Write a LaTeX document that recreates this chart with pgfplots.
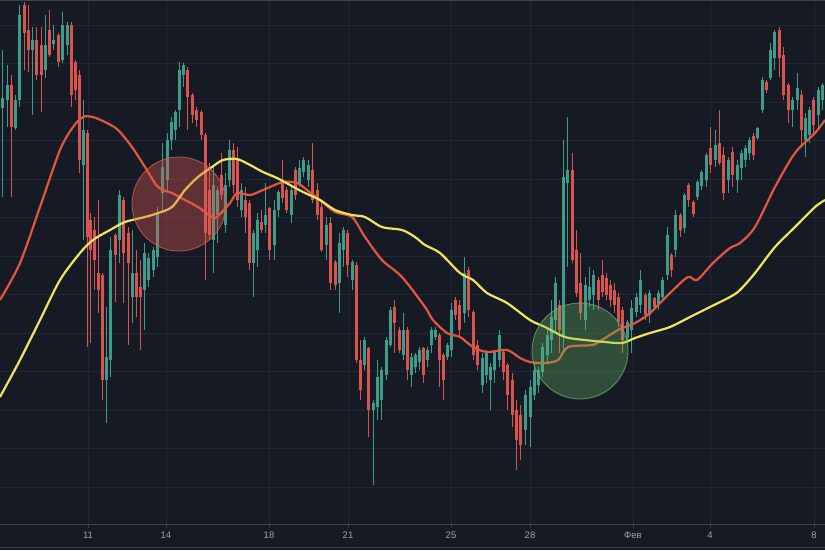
\documentclass[border=0pt]{standalone}
\usepackage{pgfplots}
\pgfplotsset{compat=1.18}
\usepackage{pgfplotstable}
\usepackage{fontspec}
\setmainfont{Liberation Sans}
\definecolor{bg}{HTML}{161A25}
\definecolor{gridc}{HTML}{232735}
\definecolor{axisc}{HTML}{3C404C}
\definecolor{up}{HTML}{3E9C8A}
\definecolor{down}{HTML}{D9534F}
\definecolor{maR}{HTML}{E2553F}
\definecolor{maY}{HTML}{EDE65A}
\definecolor{lbl}{HTML}{A0A3AB}

% pixel coordinates: x from left, y from top (top/bot = body, hi/lo = wick)
\pgfplotstableread{
x top bot hi lo
2 98 108 50 197
7 85 100 65 127
15 100 128 95 130
19 15 100 5 107
32 40 50 27 115
45 45 70 15 78
53 40 44 25 50
62 25 60 12 63
67 25 45 22 55
83 130 165 100 240
106 357 380 307 423
110 250 360 237 377
119 195 240 190 263
132 273 297 230 323
144 253 290 243 330
148 258 280 253 287
153 250 270 247 277
157 213 257 207 267
162 167 193 143 213
167 140 180 133 193
171 122 140 117 150
175 112 130 110 140
179 70 110 62 127
183 65 75 63 87
213 185 240 167 273
217 190 215 187 243
225 185 225 173 233
229 150 180 140 187
241 190 210 183 217
253 233 263 230 297
257 220 250 213 267
265 215 225 183 233
274 210 245 200 260
278 192 210 190 217
291 190 215 187 223
299 168 185 160 187
303 160 172 157 177
308 165 180 160 187
326 225 245 217 260
339 243 283 233 313
343 230 250 227 267
352 262 280 260 290
364 340 365 337 370
373 403 410 400 485
377 377 407 360 420
381 370 400 367 420
386 340 375 337 380
390 310 345 307 347
403 330 355 313 360
411 357 375 353 387
415 355 367 353 373
419 350 362 347 370
427 350 360 347 367
431 330 345 327 353
435 330 337 327 340
447 345 357 343 360
451 310 350 303 357
464 273 313 257 323
482 358 385 353 393
486 352 375 350 383
490 367 380 363 410
494 352 370 350 383
499 335 360 330 367
525 395 430 390 445
530 387 417 380 447
534 370 395 363 400
538 370 385 367 393
542 347 372 343 377
547 335 355 330 363
551 317 340 300 353
555 283 320 277 333
563 177 337 140 353
567 170 183 117 267
585 285 320 277 330
589 287 300 267 307
593 275 295 270 310
627 322 338 320 343
631 308 330 300 353
636 297 312 293 317
640 280 305 270 313
649 293 315 290 323
658 293 305 290 310
662 280 297 277 300
667 235 275 227 280
675 215 250 210 257
684 195 228 193 233
697 182 197 180 200
701 172 186 170 190
706 155 180 153 187
715 145 160 130 167
728 160 180 157 193
737 165 180 160 193
741 153 168 150 180
745 148 160 145 167
749 140 153 137 160
757 128 138 127 140
762 80 110 77 113
770 50 78 43 80
774 32 58 30 70
792 100 110 97 127
797 88 100 73 110
805 118 140 113 157
809 110 135 107 143
818 90 115 87 130
822 85 100 83 110
}\greentab

\pgfplotstableread{
x top bot hi lo
11 85 127 75 197
24 5 33 2 70
28 30 50 5 72
36 40 75 27 80
41 45 75 27 112
49 30 55 10 57
58 35 62 33 67
71 25 95 22 107
75 62 90 60 100
79 75 160 70 173
87 133 237 130 347
90 220 250 213 343
94 230 260 217 290
98 273 290 200 313
102 275 380 273 400
115 235 255 233 302
123 200 253 197 303
128 233 263 227 345
136 273 297 250 317
140 287 297 260 350
187 70 97 67 130
192 95 115 93 123
196 110 120 107 127
201 112 135 110 140
205 135 233 133 280
209 190 235 163 240
221 175 195 153 200
233 150 185 143 193
237 160 200 147 207
245 200 217 187 233
249 203 263 200 270
261 222 230 210 233
269 208 250 207 260
282 180 198 160 203
286 190 210 187 213
295 170 195 167 200
312 170 200 143 203
317 190 215 183 220
321 207 250 200 252
330 223 283 217 290
335 262 285 260 290
347 233 265 230 277
356 265 360 262 363
360 360 390 340 400
368 348 410 347 437
394 307 323 300 353
399 330 350 327 353
407 330 370 327 380
423 348 375 347 383
439 335 360 333 387
443 355 380 353 400
455 300 315 297 320
459 305 330 300 337
468 270 310 267 317
473 312 355 310 360
477 345 365 340 370
503 352 372 350 380
507 365 395 363 410
512 380 415 373 427
516 410 440 400 470
520 415 445 405 460
559 305 330 300 353
572 170 260 153 263
576 250 293 230 297
580 283 313 253 320
598 280 300 277 310
602 275 292 260 297
606 278 295 273 300
610 285 300 280 307
614 290 305 283 313
618 297 322 293 327
622 310 340 307 353
645 295 315 293 320
654 298 307 297 310
671 255 270 253 277
680 215 230 213 237
688 185 200 183 207
693 202 214 200 217
710 148 165 127 173
719 143 163 110 165
723 155 193 147 200
732 152 175 147 187
753 136 155 133 160
766 82 90 80 93
779 30 58 27 77
783 55 95 47 100
788 85 110 83 123
801 95 130 90 147
813 100 125 97 133
}\redtab

\pgfplotsset{candle/.style={mark=none, draw=none, forget plot}}

\begin{document}
\begin{tikzpicture}
\fill[bg] (0,-26pt) rectangle (825pt,524pt);
\draw[axisc, line width=0.8pt] (0,-23pt) -- (825pt,-23pt);
\begin{axis}[
  at={(0,0)}, anchor=south west,
  scale only axis, width=825pt, height=524pt,
  xmin=0, xmax=825, ymin=0, ymax=524, y dir=reverse,
  axis background/.style={fill=bg},
  separate axis lines,
  x axis line style={draw=axisc, line width=1pt},
  y axis line style={draw=none},
  xtick={88,166,269,348,451,530,633,710,814},
  xticklabels={11,14,18,21,25,28,Фев,4,8},
  xtick pos=left,
  tick align=outside,
  major tick length=4pt,
  xtick style={draw=axisc, line width=0.8pt},
  xticklabel style={font=\fontsize{9.5}{10}\selectfont, text=lbl},
  ytick={25,63.5,102,140.5,179,217.5,256,294.5,333,371.5,410,448.5,487},
  yticklabels={},
  ytick style={draw=none},
  grid=major,
  major grid style={draw=gridc, line width=0.8pt},
]
% wicks
\addplot[candle,
  error bars/.cd, y dir=plus, y explicit, error mark=none,
  error mark options={draw=none, fill=none},
  error bar style={draw=up, line width=1pt}]
  table[x=x, y=hi, y error plus expr=\thisrow{lo}-\thisrow{hi}] \greentab;
\addplot[candle,
  error bars/.cd, y dir=plus, y explicit, error mark=none,
  error mark options={draw=none, fill=none},
  error bar style={draw=down, line width=1pt}]
  table[x=x, y=hi, y error plus expr=\thisrow{lo}-\thisrow{hi}] \redtab;
% bodies
\addplot[candle,
  error bars/.cd, y dir=plus, y explicit, error mark=none,
  error mark options={draw=none, fill=none},
  error bar style={draw=up, line width=3pt}]
  table[x=x, y=top, y error plus expr=\thisrow{bot}-\thisrow{top}] \greentab;
\addplot[candle,
  error bars/.cd, y dir=plus, y explicit, error mark=none,
  error mark options={draw=none, fill=none},
  error bar style={draw=down, line width=3pt}]
  table[x=x, y=top, y error plus expr=\thisrow{bot}-\thisrow{top}] \redtab;
% highlight circles
\addplot[only marks, mark=*, mark size=47pt,
  mark options={fill={rgb,255:red,224;green,90;blue,80}, fill opacity=0.37,
  draw={rgb,255:red,215;green,95;blue,85}, draw opacity=0.8, line width=0.8pt}]
  coordinates {(179,204)};
\addplot[only marks, mark=*, mark size=48pt,
  mark options={fill={rgb,255:red,106;green,185;blue,106}, fill opacity=0.33,
  draw={rgb,255:red,110;green,175;blue,110}, draw opacity=0.8, line width=0.8pt}]
  coordinates {(580,351)};
% moving averages
\addplot[maR, line width=2.2pt, smooth, tension=0.5] coordinates {
(0,300)(20,263)(40,207)(60,150)(73,127)(83,117)(93,117)(107,123)(118,130)(132,147)
(145,167)(158,187)(172,193)(185,200)(198,207)(212,217)(217,217)(230,203)(237,193)
(250,195)(263,190)(283,182)(297,183)(307,190)(320,200)(335,212)(352,217)(365,237)
(382,260)(402,277)(425,307)(433,320)(447,333)(460,337)(473,347)(487,352)(507,350)
(520,358)(530,362)(545,363)(558,360)(568,347)(592,345)(602,340)(618,330)(635,323)
(650,313)(670,293)(688,277)(697,280)(713,263)(730,248)(740,243)(755,227)(775,187)
(795,153)(815,133)(825,120)};
\addplot[maY, line width=2.2pt, smooth, tension=0.5] coordinates {
(0,397)(20,360)(40,320)(60,280)(80,253)(93,240)(110,230)(125,222)(145,217)(158,213)
(172,207)(185,190)(198,177)(212,167)(223,160)(237,159)(250,165)(263,172)(277,178)
(290,185)(303,192)(320,200)(335,210)(352,215)(365,217)(382,227)(402,230)(415,237)
(425,245)(440,253)(460,273)(473,280)(487,293)(507,303)(530,320)(545,327)(565,337)
(585,340)(605,342)(622,343)(635,338)(650,333)(670,327)(690,317)(710,307)(730,297)
(740,290)(755,273)(775,247)(795,227)(815,207)(825,200)};
\end{axis}
\pgfresetboundingbox
\path[use as bounding box] (0,-26pt) rectangle (825pt,524pt);
\end{tikzpicture}
\end{document}
